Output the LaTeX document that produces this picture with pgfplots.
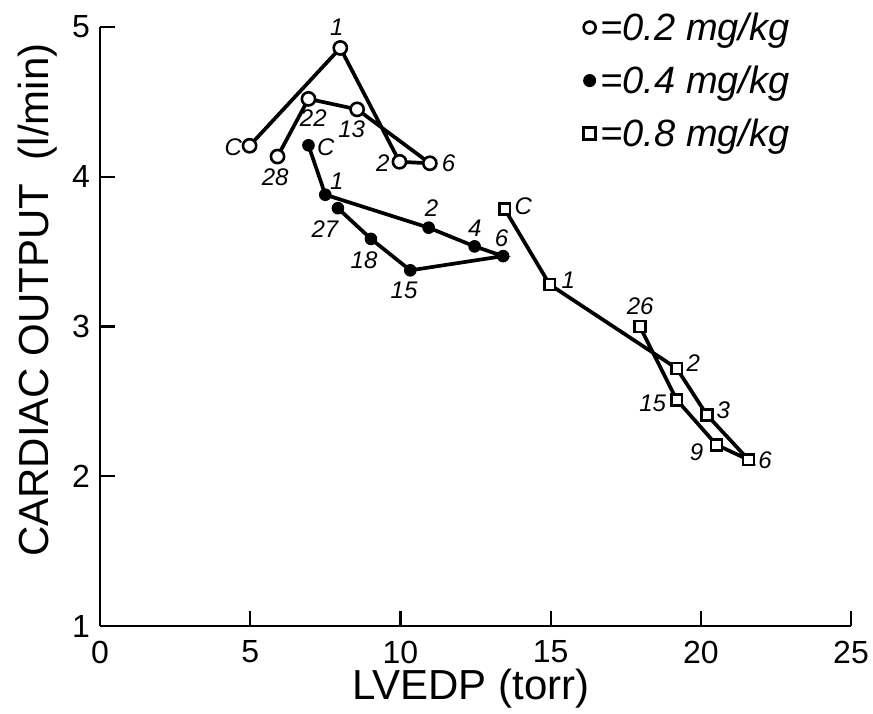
\documentclass[border=0pt]{standalone}
\usepackage{fontspec}
\setmainfont{Liberation Sans}
\usepackage{pgfplots}
\pgfplotsset{compat=1.18}
\tikzset{lbl/.style={font=\fontsize{24}{26}\selectfont\itshape, inner sep=0pt}}
\begin{document}
\begin{tikzpicture}
\begin{axis}[
  scale only axis, width=751pt, height=599pt,
  xmin=0, xmax=25, ymin=1, ymax=5,
  axis lines=left,
  axis line style={-, line width=2.2pt},
  every outer x axis line/.append style={-},
  every outer y axis line/.append style={-},
  xtick={0,5,10,15,20,25}, ytick={1,2,3,4,5},
  tick align=inside, major tick length=15pt,
  tick style={line width=2.2pt, black},
  /pgf/number format/assume math mode=true,
  ticklabel style={font=\fontsize{32}{34}\selectfont},
  xticklabel style={anchor=center, yshift=-26pt},
  yticklabel style={anchor=center, xshift=-19pt},
  xlabel={LVEDP (torr)},
  ylabel={CARDIAC OUTPUT\ \ (l/min)},
  every axis x label/.style={at={(axis description cs:0.494,0)}, yshift=-63pt, anchor=center, font=\fontsize{42}{46}\selectfont},
  every axis y label/.style={at={(axis description cs:0,0.544)}, xshift=-62pt, anchor=center, rotate=90, font=\fontsize{42}{46}\selectfont},
  clip=false,
  legend image code/.code={\draw[#1, mark size=6pt] plot coordinates {(0pt,0pt)};},
  legend cell align=left,
  legend style={draw=none, fill=none, inner sep=0pt, outer sep=0pt,
    at={(axis cs:16.1,5.1)}, anchor=north west,
    font=\fontsize{38}{42}\selectfont\itshape,
    row sep=22pt, nodes={inner sep=1pt},
    /tikz/every even column/.append style={column sep=0pt},
    /tikz/every odd column/.append style={column sep=4pt}},
]
\coordinate (O) at (rel axis cs:0,0);
\coordinate (T) at (rel axis cs:1,1);
% 0.2 mg/kg (open circles)
\addplot[black, line width=3.7pt, mark=*, mark size=6.6pt,
  mark options={fill=white, draw=black, line width=2.6pt}]
  coordinates {(4.98,4.207) (8.0,4.86) (9.97,4.10) (10.98,4.09) (8.56,4.45) (6.94,4.52) (5.91,4.135)};
\addlegendentry{=0.2 mg/kg}
% 0.4 mg/kg (filled circles)
\addplot[black, line width=3.7pt, mark=*, mark size=5.8pt,
  mark options={fill=black, draw=black, line width=1pt}]
  coordinates {(6.94,4.21) (7.5,3.88) (10.94,3.66) (12.47,3.535) (13.42,3.47) (10.33,3.375) (9.02,3.585) (7.92,3.79)};
\addlegendentry{=0.4 mg/kg}
% 0.8 mg/kg (open squares)
\addplot[black, line width=3.7pt, mark=square*, mark size=5.4pt,
  mark options={fill=white, draw=black, line width=2.6pt}]
  coordinates {(13.47,3.785) (14.97,3.28) (19.2,2.72) (20.2,2.41) (21.59,2.11) (20.52,2.21) (19.2,2.51) (17.97,3.0)};
\addlegendentry{=0.8 mg/kg}
% point labels, 0.2 mg/kg
\node[lbl] at (axis cs:7.88,5.0) {1};
\node[lbl] at (axis cs:4.44,4.20) {C};
\node[lbl] at (axis cs:7.10,4.39) {22};
\node[lbl] at (axis cs:8.38,4.32) {13};
\node[lbl] at (axis cs:5.83,4.0) {28};
\node[lbl] at (axis cs:9.41,4.094) {2};
\node[lbl] at (axis cs:11.6,4.09) {6};
% point labels, 0.4 mg/kg
\node[lbl] at (axis cs:7.52,4.20) {C};
\node[lbl] at (axis cs:7.88,3.97) {1};
\node[lbl] at (axis cs:11.04,3.79) {2};
\node[lbl] at (axis cs:12.48,3.656) {4};
\node[lbl] at (axis cs:13.37,3.59) {6};
\node[lbl] at (axis cs:7.49,3.65) {27};
\node[lbl] at (axis cs:8.79,3.44) {18};
\node[lbl] at (axis cs:10.12,3.24) {15};
% point labels, 0.8 mg/kg
\node[lbl] at (axis cs:14.09,3.80) {C};
\node[lbl] at (axis cs:15.59,3.31) {1};
\node[lbl] at (axis cs:17.98,3.137) {26};
\node[lbl] at (axis cs:19.75,2.754) {2};
\node[lbl] at (axis cs:18.4,2.49) {15};
\node[lbl] at (axis cs:20.75,2.44) {3};
\node[lbl] at (axis cs:19.86,2.16) {9};
\node[lbl] at (axis cs:22.14,2.11) {6};
\end{axis}
\path ([shift={(-100pt,-87pt)}]O) rectangle ([shift={(22pt,27pt)}]T);
\end{tikzpicture}
\end{document}
